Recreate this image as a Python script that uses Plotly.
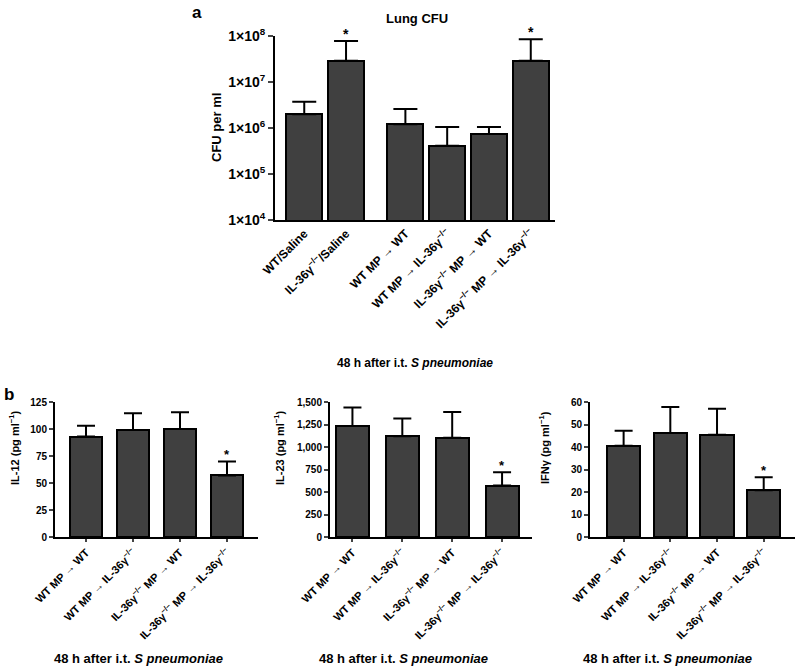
import numpy as np
import plotly.graph_objects as go

# ---------------- data ----------------
cfu_labels = ["WT/Saline", "IL-36γ<sup>−/−</sup>/Saline", "WT MP → WT",
              "WT MP → IL-36γ<sup>−/−</sup>", "IL-36γ<sup>−/−</sup> MP → WT",
              "IL-36γ<sup>−/−</sup> MP → IL-36γ<sup>−/−</sup>"]
cfu_group = [0, 0, 1, 1, 1, 1]
cfu_mean = [2.0e6, 2.9e7, 1.2e6, 4.1e5, 7.4e5, 2.9e7]
cfu_upper = [3.7e6, 7.8e7, 2.6e6, 1.05e6, 1.05e6, 8.5e7]
cfu_sig = [False, True, False, False, False, True]
cfu_ticks = [1e4, 1e5, 1e6, 1e7, 1e8]
cfu_ticktext = ["1×10<sup>4</sup>", "1×10<sup>5</sup>", "1×10<sup>6</sup>",
                "1×10<sup>7</sup>", "1×10<sup>8</sup>"]

cyto_labels = ["WT MP → WT", "WT MP → IL-36γ<sup>−/−</sup>",
               "IL-36γ<sup>−/−</sup> MP → WT",
               "IL-36γ<sup>−/−</sup> MP → IL-36γ<sup>−/−</sup>"]
il12_mean = [93, 99, 100, 57]
il12_upper = [103, 114.5, 115.5, 70]
il23_mean = [1233, 1119, 1104, 571]
il23_upper = [1438, 1316, 1389, 719]
ifng_mean = [40.6, 46.2, 45.4, 20.8]
ifng_upper = [47.2, 57.8, 57.0, 26.5]
cyto_sig = [False, False, False, True]

il12_ticks = [0, 25, 50, 75, 100, 125]
il23_ticks = [0, 250, 500, 750, 1000, 1250, 1500]
ifng_ticks = [0, 10, 20, 30, 40, 50, 60]

xtitle = "48 h after i.t. <i>S pneumoniae</i>"

# ---------------- styling ----------------
W, H = 795, 668
FONT = "Arial, Liberation Sans, Helvetica, sans-serif"
BAR = "#404040"


def px_x(p):
    return p / W


def px_y(p):
    return 1 - p / H


def bold(size):
    return dict(size=size, family=FONT, color="black", weight="bold")


fig = go.Figure()

# Top panel
xpos_top = [i + 0.42 * g for i, g in enumerate(cfu_group)]
fig.add_trace(go.Bar(
    x=xpos_top, y=cfu_mean, width=0.86,
    marker=dict(color=BAR, line=dict(color="black", width=2)),
    error_y=dict(type="data", symmetric=False,
                 array=[u - m for u, m in zip(cfu_upper, cfu_mean)],
                 arrayminus=[0] * len(cfu_mean),
                 color="black", thickness=2, width=12),
    xaxis="x", yaxis="y", showlegend=False))

bottom = [
    (il12_mean, il12_upper, il12_ticks, "IL-12 (pg ml<sup>−1</sup>)", [-0.66, 3.66], 0.68, (55, 258)),
    (il23_mean, il23_upper, il23_ticks, "IL-23 (pg ml<sup>−1</sup>)", [-0.45, 3.6], 0.66, (330, 532)),
    (ifng_mean, ifng_upper, ifng_ticks, "IFNγ (pg ml<sup>−1</sup>)", [-0.72, 3.67], 0.71, (590, 795)),
]

layout = dict(
    width=W, height=H, autosize=False,
    margin=dict(l=0, r=0, t=0, b=0),
    paper_bgcolor="white", plot_bgcolor="white",
    font=dict(family=FONT, color="black", weight="bold"),
    showlegend=False,
    bargap=0,
)

axis_common = dict(showline=True, linewidth=2, linecolor="black", showgrid=False,
                   zeroline=False, automargin=False, mirror=False)

layout["xaxis"] = dict(axis_common, domain=[px_x(275), px_x(555)], anchor="y",
                       range=[-0.7, 6.0], tickmode="array", tickvals=xpos_top,
                       ticktext=cfu_labels, tickangle=-45, ticks="",
                       tickfont=bold(12))
layout["yaxis"] = dict(axis_common, domain=[px_y(220), px_y(36)], anchor="x",
                       type="log", range=[4, 8], tickmode="array",
                       tickvals=cfu_ticks, ticktext=cfu_ticktext,
                       ticks="outside", ticklen=5, tickwidth=2,
                       tickfont=bold(14))

annotations = []
for x, u, s in zip(xpos_top, cfu_upper, cfu_sig):
    if s:
        annotations.append(dict(x=x, y=np.log10(u), xref="x", yref="y", text="*",
                                showarrow=False, yanchor="bottom", yshift=-3,
                                font=bold(14)))


def paper_text(x, y, text, size, angle=0):
    return dict(x=px_x(x), y=px_y(y), xref="paper", yref="paper", text=text,
                textangle=angle, showarrow=False, xanchor="center",
                yanchor="middle", font=bold(size))


annotations += [
    paper_text(417, 18, "Lung CFU", 13),
    paper_text(197, 12, "a", 17),
    paper_text(217, 128, "CFU per ml", 13, -90),
    paper_text(415, 363, xtitle, 12),
    paper_text(9, 394, "b", 17),
]

title_x = [138, 403, 667]
ylab_x = [14, 279, 544]
for k, (mean, upper, ticks, ylab, xr, bw, (x0, x1)) in enumerate(bottom):
    n = k + 2
    xa, ya = f"x{n}", f"y{n}"
    xpos = list(range(len(mean)))
    fig.add_trace(go.Bar(
        x=xpos, y=mean, width=bw,
        marker=dict(color=BAR, line=dict(color="black", width=2)),
        error_y=dict(type="data", symmetric=False,
                     array=[u - m for u, m in zip(upper, mean)],
                     arrayminus=[0] * len(mean),
                     color="black", thickness=2, width=9),
        xaxis=xa, yaxis=ya, showlegend=False))
    layout[f"xaxis{n}"] = dict(axis_common, domain=[px_x(x0), px_x(x1)], anchor=ya,
                               range=xr, tickmode="array", tickvals=xpos,
                               ticktext=cyto_labels, tickangle=-45,
                               ticks="outside", ticklen=3, tickwidth=2,
                               tickfont=bold(11))
    layout[f"yaxis{n}"] = dict(axis_common, domain=[px_y(537), px_y(402)], anchor=xa,
                               range=[0, ticks[-1]], tickmode="array", tickvals=ticks,
                               tickformat=",", ticks="outside", ticklen=4, tickwidth=2,
                               tickfont=bold(10))
    for x, u, s in zip(xpos, upper, cyto_sig):
        if s:
            annotations.append(dict(x=x, y=u, xref=xa, yref=ya, text="*",
                                    showarrow=False, yanchor="bottom", yshift=-3,
                                    font=bold(13)))
    annotations.append(paper_text(ylab_x[k], 448, ylab, 11, -90))
    annotations.append(paper_text(title_x[k], 658, xtitle, 13))

layout["annotations"] = annotations
fig.update_layout(**layout)

fig.write_html("out.html", config={"displayModeBar": False},
               post_script="document.body.style.margin='0';"
                           "document.body.style.overflow='hidden';")
